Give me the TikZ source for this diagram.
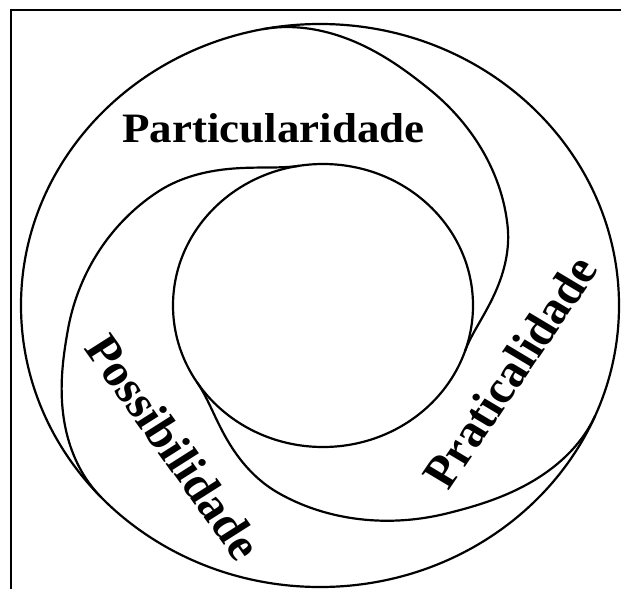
\documentclass[tikz,border=0pt]{standalone}
\usepackage{fontspec}
\setmainfont{Liberation Serif}
\begin{document}
\begin{tikzpicture}[x=1pt,y=-1pt,
  curve/.style={line width=2.2pt, black},
  lbl/.style={font=\fontsize{45}{45}\selectfont\bfseries, inner sep=0pt},
  rlbl/.style={font=\fontsize{49}{49}\selectfont\bfseries, inner sep=0pt},
  declare function={nrm(\s)=1-\s+\s*max(0,1-\s/0.3)*max(0,1-\s/0.3)-(1-\s)*max(0,1-(1-\s)/0.36)*max(0,1-(1-\s)/0.36);}]
\useasboundingbox (0,0) rectangle (621,589);
\fill[white] (0,0) rectangle (621,589);
% frame
\draw[line width=2.2pt] (11,589) -- (11,10) -- (621,10);
% outer and inner circles
\draw[curve] (320,305.5) ellipse [x radius=299, y radius=281.5];
\draw[curve] (323,305.5) ellipse [x radius=150, y radius=141.5];
% three spiral arcs
\draw[curve] plot[domain=0:1, samples=200, variable=\t]
  ({323-3*nrm(\t)+(150+149*nrm(\t))*cos(101-120*\t)}, {305.5-(141.5+140*nrm(\t))*sin(101-120*\t)});
\draw[curve] plot[domain=0:1, samples=200, variable=\t]
  ({323-3*nrm(\t)+(150+149*nrm(\t))*cos(337-124*\t)}, {305.5-(141.5+140*nrm(\t))*sin(337-124*\t)});
\draw[curve] plot[domain=0:1, samples=200, variable=\t]
  ({323-3*nrm(\t)+(150+149*nrm(\t))*cos(223-124*\t)}, {305.5-(141.5+140*nrm(\t))*sin(223-124*\t)});
% labels
\node[lbl, anchor=base, yscale=0.93] (part) at (273.5,142) {Particularidade};
\node[rlbl, yscale=0.942, rotate=57.5] (prat) at (510,372) {Praticalidade};
\node[rlbl, yscale=0.942, rotate=-56] (poss) at (174,447) {Possibilidade};
\end{tikzpicture}
\end{document}
